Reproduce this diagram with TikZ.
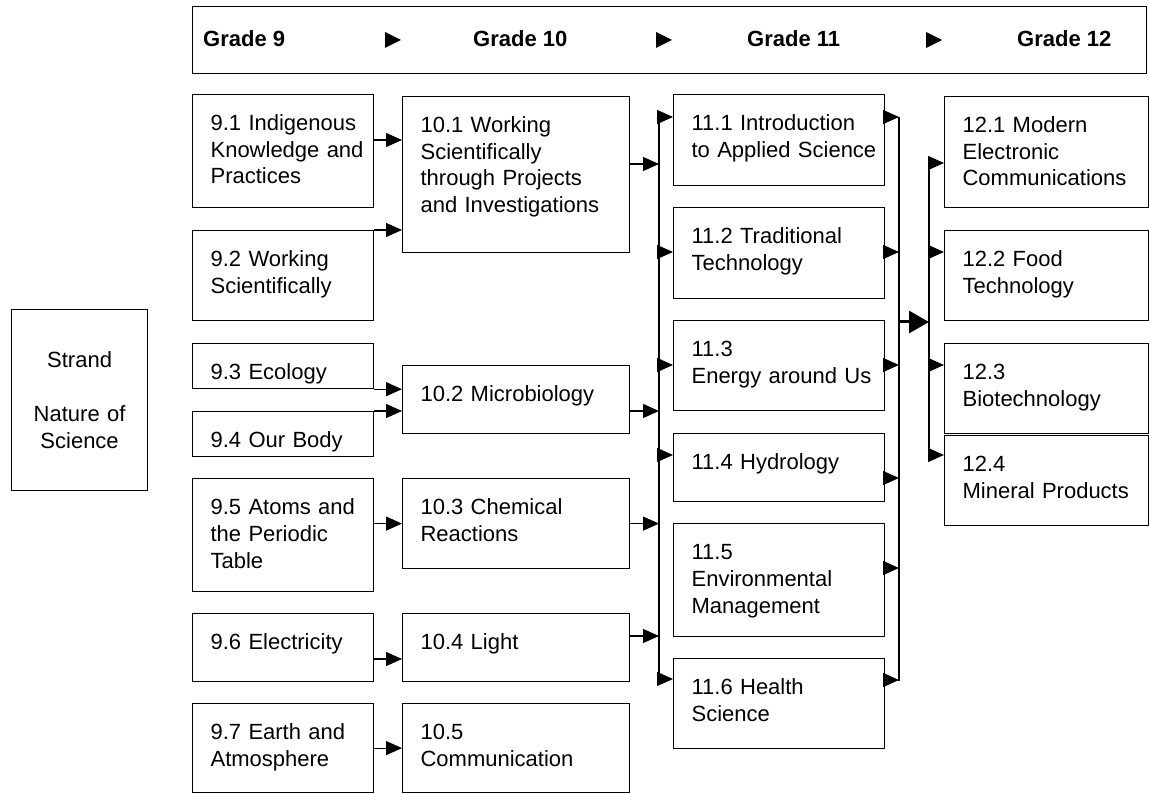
\documentclass[tikz,border=0pt]{standalone}
\usepackage{fontspec}
\setmainfont{Liberation Sans}
\usetikzlibrary{arrows.meta}

\newcommand{\topicfont}{\fontsize{22pt}{26.7pt}\selectfont}

\tikzset {
  % box round one topic, text starts top left
  topic/.style = {
    draw = black,
    line width = 1.2pt,
    rectangle,
    anchor = north west,
    inner xsep = 0pt,
    inner ysep = 0pt,
    text height = 36pt,
    font = \topicfont,
    execute at begin node = {\leftskip=18pt\rightskip=0pt plus 1fil minus 30pt}
  },
  % one width per grade column
  col9/.style = {topic, text width = 181pt},
  col10/.style = {topic, text width = 227pt},
  col11/.style = {topic, text width = 211pt},
  col12/.style = {topic, text width = 204pt},
  frame/.style = {
    draw = black,
    line width = 1.2pt,
    rectangle,
    anchor = north west,
    inner sep = 0pt
  },
  grade/.style = {
    anchor = base west,
    inner sep = 0pt,
    font = \bfseries\topicfont
  }
}
\tikzset {
  % vertical collector line
  bus/.style = {
    draw = black,
    line width = 1.2pt
  },
  arr/.style = {
    draw = black,
    line width = 1.2pt,
    -{Triangle[length=16pt,width=14pt]}
  },
  big arr/.style = {
    draw = black,
    line width = 3pt,
    -{Triangle[length=20pt,width=22pt]}
  }
}

\begin{document}
\begin{tikzpicture}[x=1pt, y=-1pt]
    \useasboundingbox[fill=white] (0,0) rectangle (1149,794);

    % header line
    \node[frame, minimum width=954pt, minimum height=67pt] (header) at (192,6) {};
    \node[grade] (grade9) at (203,47) {Grade 9};
    \node[grade] (grade10) at (473,47) {Grade 10};
    \node[grade] (grade11) at (747,47) {Grade 11};
    \node[grade] (grade12) at (1017,47) {Grade 12};
    \fill (385,32) -- (401,40) -- (385,48) -- cycle;
    \fill (656,32) -- (672,40) -- (656,48) -- cycle;
    \fill (926,32) -- (942,40) -- (926,48) -- cycle;

    \node[frame, minimum width=136pt, minimum height=181pt, text width=136pt,
      align=center, font=\topicfont] (strand) at (11,309)
      {Strand\\[26.7pt]Nature of\\Science};

    % grade 9
    \node[col9, text depth=77pt] (g91) at (192,94) {9.1 Indigenous\\Knowledge and\\Practices};
    \node[col9, text depth=54pt] (g92) at (192,230) {9.2 Working\\Scientifically};
    \node[col9, text depth=9pt] (g93) at (192,343) {9.3 Ecology};
    \node[col9, text depth=9pt] (g94) at (192,411) {9.4 Our Body};
    \node[col9, text depth=77pt] (g95) at (192,478) {9.5 Atoms and\\the Periodic\\Table};
    \node[col9, text depth=32pt] (g96) at (192,613) {9.6 Electricity};
    \node[col9, text depth=53pt] (g97) at (192,703) {9.7 Earth and\\Atmosphere};

    % grade 10
    \node[col10, text depth=120pt] (g101) at (402,96) {10.1 Working\\Scientifically\\through Projects\\and Investigations};
    \node[col10, text depth=32pt] (g102) at (402,365) {10.2 Microbiology};
    \node[col10, text depth=54pt] (g103) at (402,478) {10.3 Chemical\\Reactions};
    \node[col10, text depth=32pt] (g104) at (402,613) {10.4 Light};
    \node[col10, text depth=53pt] (g105) at (402,703) {10.5\\Communication};

    % grade 11
    \node[col11, text depth=55pt] (g111) at (673,94) {11.1 Introduction\\to Applied Science};
    \node[col11, text depth=55pt] (g112) at (673,207) {11.2 Traditional\\Technology};
    \node[col11, text depth=54pt] (g113) at (673,320) {11.3\\Energy around Us};
    \node[col11, text depth=32pt] (g114) at (673,433) {11.4 Hydrology};
    \node[col11, text depth=77pt] (g115) at (673,523) {11.5\\Environmental\\Management};
    \node[col11, text depth=54pt] (g116) at (673,658) {11.6 Health\\Science};

    % grade 12
    \node[col12, text depth=75pt] (g121) at (944,96) {12.1 Modern\\Electronic\\Communications};
    \node[col12, text depth=54pt] (g122) at (944,230) {12.2 Food\\Technology};
    \node[col12, text depth=54pt] (g123) at (944,343) {12.3\\Biotechnology};
    \node[col12, text depth=54pt] (g124) at (944,435) {12.4\\Mineral Products};

    \coordinate (busL) at (659,117);
    \coordinate (busL end) at (659,685);
    \coordinate (busR) at (899,117);
    \coordinate (busR end) at (899,681);
    \coordinate (bus12) at (929,160);
    \coordinate (bus12 end) at (929,460);
    \draw[bus] (busL) -- (busL end);
    \draw[bus] (busR) -- (busR end);
    \draw[bus] (bus12) -- (bus12 end);

    % grade 9 to grade 10
    \draw[arr] (g91.east |- 0,140) -- (g101.west |- 0,140);
    \draw[arr] (g92.north east) -- (g101.west |- g92.north east);
    \draw[arr] (g93.south east) -- (g102.west |- g93.south east);
    \draw[arr] (g94.north east) -- (g102.west |- g94.north east);
    \draw[arr] (g95.east |- g103.west) -- (g103.west);
    \draw[arr] (g96.east |- 0,659) -- (g104.west |- 0,659);
    \draw[arr] (g97.east) -- (g105.west |- g97.east);

    % grade 10 into the bus
    \draw[arr] (g101.east |- 0,164) -- (busL |- 0,164);
    \draw[arr] (g102.east |- 0,411) -- (busL |- 0,411);
    \draw[arr] (g103.east) -- (busL |- g103.east);
    \draw[arr] (g104.east |- 0,636) -- (busL |- 0,636);

    % bus out to grade 11
    \draw[arr] (busL |- 0,117) -- (g111.west |- 0,117);
    \draw[arr] (busL |- 0,252) -- (g112.west |- 0,252);
    \draw[arr] (busL |- 0,365) -- (g113.west |- 0,365);
    \draw[arr] (busL |- 0,455) -- (g114.west |- 0,455);
    \draw[arr] (busL |- 0,679) -- (g116.west |- 0,679);

    % grade 11 into the right bus
    \draw[arr] (g111.east |- 0,117) -- (busR |- 0,117);
    \draw[arr] (g112.east |- 0,252) -- (busR |- 0,252);
    \draw[arr] (g113.east |- 0,365) -- (busR |- 0,365);
    \draw[arr] (g114.east |- 0,478) -- (busR |- 0,478);
    \draw[arr] (g115.east |- 0,568) -- (busR |- 0,568);
    \draw[arr] (g116.east |- 0,680) -- (busR |- 0,680);

    \draw[big arr] (busR |- 0,322) -- (bus12 |- 0,322);

    % bus out to grade 12
    \draw[arr] (bus12 |- 0,163) -- (g121.west |- 0,163);
    \draw[arr] (bus12 |- 0,252) -- (g122.west |- 0,252);
    \draw[arr] (bus12 |- 0,365) -- (g123.west |- 0,365);
    \draw[arr] (bus12 |- 0,455) -- (g124.west |- 0,455);

\end{tikzpicture}
\end{document}
